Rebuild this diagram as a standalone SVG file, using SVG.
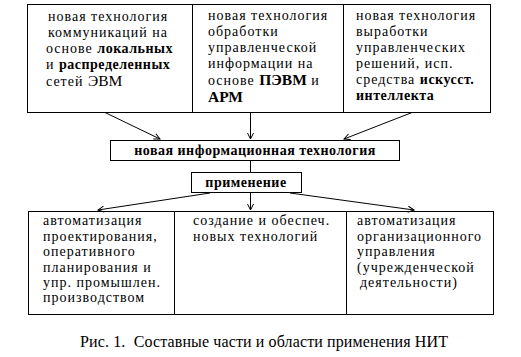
<svg xmlns="http://www.w3.org/2000/svg" width="521" height="357" viewBox="0 0 521 357">
<defs>
<style>
.box{fill:#fff;stroke:#000;stroke-width:1}
.div{stroke:#000;stroke-width:1}
text{font-family:"Liberation Serif","Times New Roman",serif;fill:#000}
.t{font-size:14px;letter-spacing:1px}
.b{font-weight:bold;letter-spacing:0.5px}
.big{font-size:15.5px;letter-spacing:0}
.cap{font-size:16px;letter-spacing:0.12px;white-space:pre}
.con{stroke:#000;stroke-width:1;fill:none;marker-end:url(#ah)}
</style>
<marker id="ah" markerWidth="8" markerHeight="8" refX="7" refY="4" orient="auto" markerUnits="userSpaceOnUse">
<path d="M1,1 L7,4 L1,7" fill="none" stroke="#000" stroke-width="1"/>
</marker>
</defs>
<rect width="521" height="357" fill="#fff"/>
<g id="top-box">
<rect class="box" x="27.5" y="4.5" width="463" height="108"/>
<line class="div" x1="192.5" y1="4.5" x2="192.5" y2="112.5"/>
<line class="div" x1="343.5" y1="4.5" x2="343.5" y2="112.5"/>
</g>
<g id="node-comm">
<text class="t" x="48" y="21">новая технология</text>
<text class="t" x="48" y="37">коммуникаций на</text>
<text class="t" x="46" y="53">основе <tspan class="b">локальных</tspan></text>
<text class="t" x="46" y="69">и <tspan class="b">распределенных</tspan></text>
<text class="t" x="46" y="86">сетей <tspan class="big">ЭВМ</tspan></text>
</g>
<g id="node-proc">
<text class="t" x="208" y="20">новая технология</text>
<text class="t" x="208" y="36">обработки</text>
<text class="t" x="208" y="52">управленческой</text>
<text class="t" x="208" y="68">информации на</text>
<text class="t" x="208" y="85">основе <tspan class="b big">ПЭВМ</tspan> и</text>
<text class="t b big" x="208" y="102">АРМ</text>
</g>
<g id="node-decision">
<text class="t" x="356" y="20">новая технология</text>
<text class="t" x="356" y="36">выработки</text>
<text class="t" x="356" y="52">управленческих</text>
<text class="t" x="356" y="68">решений, исп.</text>
<text class="t" x="356" y="84">средства <tspan class="b">искусст.</tspan></text>
<text class="t b" x="356" y="100">интеллекта</text>
</g>
<g id="node-nit">
<rect class="box" x="110.5" y="140.5" width="289" height="20"/>
<text class="t b" x="255" y="155" text-anchor="middle">новая информационная технология</text>
</g>
<g id="node-apply">
<rect class="box" x="191.5" y="172.5" width="110" height="20"/>
<text class="t b" x="246" y="187" text-anchor="middle">применение</text>
</g>
<g id="bottom-box">
<rect class="box" x="28.5" y="211.5" width="465" height="103"/>
<line class="div" x1="174.5" y1="211.5" x2="174.5" y2="314.5"/>
<line class="div" x1="346.5" y1="211.5" x2="346.5" y2="314.5"/>
</g>
<g id="node-cad">
<text class="t" x="43" y="225">автоматизация</text>
<text class="t" x="43" y="241">проектирования,</text>
<text class="t" x="43" y="256">оперативного</text>
<text class="t" x="43" y="272">планирования и</text>
<text class="t" x="43" y="287">упр. промышлен.</text>
<text class="t" x="43" y="302">производством</text>
</g>
<g id="node-newtech">
<text class="t" x="193" y="225">создание и обеспеч.</text>
<text class="t" x="193" y="241">новых технологий</text>
</g>
<g id="node-org">
<text class="t" x="357" y="225">автоматизация</text>
<text class="t" x="357" y="241">организационного</text>
<text class="t" x="357" y="256">управления</text>
<text class="t" x="357" y="272">(учрежденческой</text>
<text class="t" x="360" y="287">деятельности)</text>
</g>
<g id="connectors">
<line class="con" x1="105" y1="112.5" x2="160" y2="139"/>
<line class="con" x1="250.5" y1="112.5" x2="250.5" y2="139"/>
<line class="con" x1="412" y1="112.5" x2="344" y2="139"/>
<line x1="250.5" y1="160.5" x2="250.5" y2="172.5" stroke="#000"/>
<line class="con" x1="210" y1="193" x2="98" y2="210"/>
<line class="con" x1="250.5" y1="193" x2="250.5" y2="210"/>
<line class="con" x1="290" y1="193" x2="414" y2="210"/>
</g>
<text class="cap" x="80" y="347">Рис. 1.  Составные части и области применения НИТ</text>
</svg>
